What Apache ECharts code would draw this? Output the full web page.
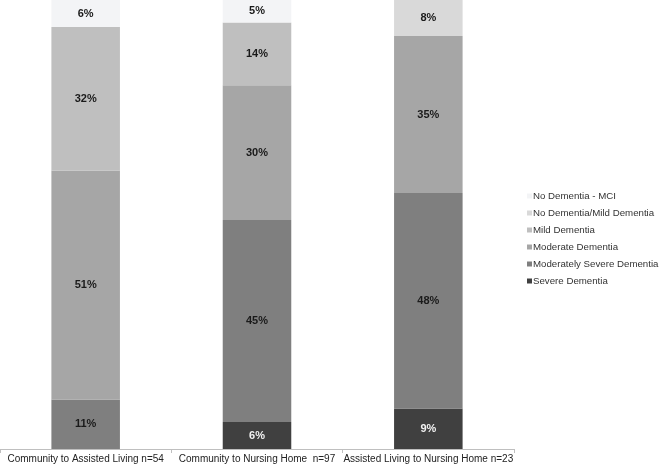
<!DOCTYPE html>
<html>
<head>
<meta charset="utf-8">
<script src="https://cdn.jsdelivr.net/npm/echarts@6/dist/echarts.min.js"></script>
<style>
  html, body { margin: 0; padding: 0; background: #fff; }
  #chart { width: 660px; height: 468px; }
</style>
</head>
<body>
<div id="chart"></div>
<script>
// transitions, percent of each group
const categories = ["Community to Assisted Living n=54", "Community to Nursing Home  n=97", "Assisted Living to Nursing Home n=23"]
const severe       = [null, 6, 9]
const modSevere    = [11, 45, 48]
const moderate     = [51, 30, 35]
const mild         = [32, 14, null]
const noDemMild    = [null, null, 8]
const noDemMci     = [6, 5, null]

const seriesDefs = [
  { name: "Severe Dementia",            data: severe,    color: "#404040", label: "#f2f2f2" },
  { name: "Moderately Severe Dementia", data: modSevere, color: "#7f7f7f", label: "#1a1a1a" },
  { name: "Moderate Dementia",          data: moderate,  color: "#a6a6a6", label: "#1a1a1a" },
  { name: "Mild Dementia",              data: mild,      color: "#bfbfbf", label: "#1a1a1a" },
  { name: "No Dementia/Mild Dementia",  data: noDemMild, color: "#d9d9d9", label: "#1a1a1a" },
  { name: "No Dementia - MCI",          data: noDemMci,  color: "#f3f4f6", label: "#1a1a1a" },
]

const chart = echarts.init(document.getElementById("chart"), null, { renderer: "canvas" })

chart.setOption({
  backgroundColor: "#fff",
  animation: false,
  textStyle: { fontFamily: "Liberation Sans, Arial, sans-serif" },
  legend: {
    orient: "vertical",
    left: 522,
    top: 185,
    itemWidth: 5,
    itemHeight: 5,
    itemGap: 5,
    icon: "rect",
    data: seriesDefs.map((s) => s.name).reverse(),
    textStyle: { color: "#333", fontSize: 9.7, lineHeight: 12, padding: [0, 0, 0, -4] },
  },
  grid: { left: 0, right: 146, top: 0, bottom: 19, containLabel: false, outerBoundsMode: "none" },
  xAxis: {
    type: "category",
    data: categories,
    axisLine: { lineStyle: { color: "#bfbfbf" } },
    axisTick: { show: true, length: 4, lineStyle: { color: "#bfbfbf" } },
    axisLabel: { color: "#222", fontSize: 10, margin: 5, interval: 0 },
  },
  yAxis: { type: "value", min: 0, max: 100, show: false, splitLine: { show: false } },
  series: seriesDefs.map((s) => ({
    name: s.name,
    type: "bar",
    stack: "total",
    barWidth: "40%",
    data: s.data,
    itemStyle: { color: s.color },
    label: {
      show: true,
      position: "inside",
      formatter: (p) => p.value + "%",
      color: s.label,
      fontSize: 11,
      fontWeight: "bold",
    },
  })),
})
</script>
</body>
</html>
